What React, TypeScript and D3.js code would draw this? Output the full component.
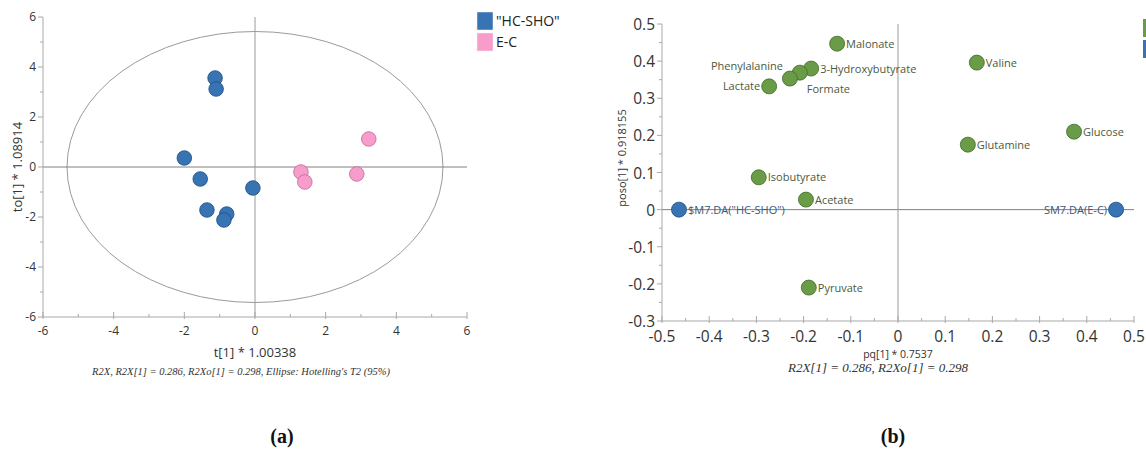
import * as d3 from "d3";

// --- panel (a): score plot ---
const hcX = [-1.13, -1.1, -2.0, -1.55, -0.06, -1.36, -0.8, -0.88];
const hcY = [3.56, 3.12, 0.36, -0.48, -0.84, -1.72, -1.88, -2.12];
const ecX = [1.3, 1.41, 2.88, 3.22];
const ecY = [-0.2, -0.6, -0.28, 1.12];
const ellipseR = [5.32, 5.42];
const ticksA = [-6, -4, -2, 0, 2, 4, 6];
const minorA = [-5, -3, -1, 1, 3, 5];
const legendA = ['"HC-SHO"', "E-C"];

// --- panel (b): loading plot ---
const metNames = [
  "Malonate", "3-Hydroxybutyrate", "Formate", "Phenylalanine", "Lactate",
  "Isobutyrate", "Acetate", "Valine", "Glutamine", "Glucose", "Pyruvate",
];
const metX = [-0.129, -0.184, -0.208, -0.229, -0.273, -0.295, -0.195, 0.167, 0.148, 0.373, -0.189];
const metY = [0.447, 0.38, 0.369, 0.353, 0.332, 0.087, 0.027, 0.396, 0.175, 0.21, -0.21];
const metSide = ["r", "r", "br", "tl", "l", "r", "r", "r", "r", "r", "r"];
const daNames = ['$M7.DA("HC-SHO")', "SM7.DA(E-C)"];
const daX = [-0.464, 0.462];
const daY = [0, 0];
const daSide = ["r", "l"];
const ticksBX = [-0.5, -0.4, -0.3, -0.2, -0.1, 0, 0.1, 0.2, 0.3, 0.4, 0.5];
const ticksBY = [-0.3, -0.2, -0.1, 0, 0.1, 0.2, 0.3, 0.4, 0.5];

const W = 1146;
const H = 450;
const BLUE = "#3874b4";
const BLUE_S = "#1f4c7c";
const PINK = "#f89ccc";
const PINK_S = "#c0689a";
const GREEN = "#6a9c48";
const GREEN_S = "#3f6a28";
const SANS = "'Open Sans', 'Noto Sans', sans-serif";
const SERIF = "'Liberation Serif', 'DejaVu Serif', serif";

// plain hyphen minus, like the original software
const fmtB = (v: number) => (Math.abs(v) < 1e-9 ? "0" : v.toFixed(1));

export default function App() {
  const xA = d3.scaleLinear().domain([-6, 6]).range([43, 467]);
  const yA = d3.scaleLinear().domain([-6, 6]).range([317, 17]);
  const xB = d3.scaleLinear().domain([-0.5, 0.5]).range([662, 1134]);
  const yB = d3.scaleLinear().domain([-0.3, 0.5]).range([321, 24]);

  const minorBX = d3.range(-0.45, 0.5, 0.1);
  const minorBY = d3.range(-0.25, 0.5, 0.1);

  const labelPos = (cx: number, cy: number, side: string) => {
    if (side === "l") return { x: cx - 9, y: cy + 4, anchor: "end" };
    if (side === "tl") return { x: cx - 7, y: cy - 9, anchor: "end" };
    if (side === "br") return { x: cx + 7, y: cy + 20, anchor: "start" };
    return { x: cx + 9, y: cy + 4, anchor: "start" };
  };

  return (
    <svg
      width={W}
      height={H}
      viewBox={`0 0 ${W} ${H}`}
      style={{ position: "absolute", left: 0, top: 0, background: "#fff" }}
    >
      {/* ===== panel (a) ===== */}
      <g>
        <ellipse
          cx={xA(0)}
          cy={yA(0)}
          rx={xA(ellipseR[0]) - xA(0)}
          ry={yA(0) - yA(ellipseR[1])}
          fill="none"
          stroke="#9a9a9a"
          strokeWidth={1}
        />
        {/* zero lines */}
        <line x1={xA(-6)} x2={xA(6)} y1={yA(0)} y2={yA(0)} stroke="#808080" />
        <line x1={xA(0)} x2={xA(0)} y1={yA(6)} y2={yA(-6)} stroke="#9a9a9a" />
        {/* axes */}
        <line x1={xA(-6)} x2={xA(-6)} y1={yA(6)} y2={yA(-6)} stroke="#a8a8a8" />
        <line x1={xA(-6)} x2={xA(6)} y1={yA(-6)} y2={yA(-6)} stroke="#a8a8a8" />
        {ticksA.map((t) => (
          <g key={"ay" + t}>
            <line x1={xA(-6) - 5} x2={xA(-6)} y1={yA(t)} y2={yA(t)} stroke="#a8a8a8" />
            <text x={xA(-6) - 7} y={yA(t) + 4} textAnchor="end" fontSize={12} fontFamily={SANS} fill="#333">
              {t}
            </text>
          </g>
        ))}
        {minorA.map((t) => (
          <line key={"aym" + t} x1={xA(-6) - 3} x2={xA(-6)} y1={yA(t)} y2={yA(t)} stroke="#a8a8a8" />
        ))}
        {ticksA.map((t) => (
          <g key={"ax" + t}>
            <line x1={xA(t)} x2={xA(t)} y1={yA(-6) - 5} y2={yA(-6) + 2} stroke="#a8a8a8" />
            <text x={xA(t)} y={yA(-6) + 18} textAnchor="middle" fontSize={12} fontFamily={SANS} fill="#333">
              {t}
            </text>
          </g>
        ))}
        {minorA.map((t) => (
          <line key={"axm" + t} x1={xA(t)} x2={xA(t)} y1={yA(-6) - 3} y2={yA(-6)} stroke="#a8a8a8" />
        ))}
        {/* points */}
        {hcX.map((x, i) => (
          <circle key={"hc" + i} cx={xA(x)} cy={yA(hcY[i])} r={7.3} fill={BLUE} stroke={BLUE_S} strokeWidth={0.8} />
        ))}
        {ecX.map((x, i) => (
          <circle key={"ec" + i} cx={xA(x)} cy={yA(ecY[i])} r={7.3} fill={PINK} stroke={PINK_S} strokeWidth={0.8} />
        ))}
        {/* legend */}
        {legendA.map((name, i) => (
          <g key={name} transform={`translate(477, ${12 + i * 21})`}>
            <rect width={16} height={18} fill={i === 0 ? BLUE : PINK} stroke="#eee" strokeWidth={0.5} />
            <text x={19} y={14} fontSize={14} fontFamily={SANS} fill="#222">
              {name}
            </text>
          </g>
        ))}
        {/* labels */}
        <text
          transform={`translate(22, ${yA(0)}) rotate(-90)`}
          textAnchor="middle"
          fontSize={13}
          fontFamily={SANS}
          fill="#333"
        >
          to[1] * 1.08914
        </text>
        <text x={xA(0)} y={357} textAnchor="middle" fontSize={13} fontFamily={SANS} fill="#333">
          t[1] * 1.00338
        </text>
        <text x={241} y={375} textAnchor="middle" fontSize={10.5} fontStyle="italic" fontFamily={SERIF} fill="#333">
          R2X, R2X[1] = 0.286, R2Xo[1] = 0.298, Ellipse: Hotelling's T2 (95%)
        </text>
        <text x={282} y={443} textAnchor="middle" fontSize={20} fontWeight="bold" fontFamily={SERIF} fill="#111">
          (a)
        </text>
      </g>

      {/* ===== panel (b) ===== */}
      <g>
        <line x1={xB(-0.5)} x2={xB(0.5)} y1={yB(0)} y2={yB(0)} stroke="#808080" />
        <line x1={xB(0)} x2={xB(0)} y1={yB(0.5)} y2={yB(-0.3)} stroke="#9a9a9a" />
        <line x1={xB(-0.5)} x2={xB(-0.5)} y1={yB(0.5)} y2={yB(-0.3)} stroke="#a8a8a8" />
        <line x1={xB(-0.5)} x2={xB(0.5)} y1={yB(-0.3)} y2={yB(-0.3)} stroke="#a8a8a8" />
        {ticksBY.map((t) => (
          <g key={"by" + t}>
            <line x1={xB(-0.5) - 5} x2={xB(-0.5)} y1={yB(t)} y2={yB(t)} stroke="#a8a8a8" />
            <text x={xB(-0.5) - 7} y={yB(t) + 6} textAnchor="end" fontSize={15.5} fontFamily={SANS} fill="#333">
              {fmtB(t)}
            </text>
          </g>
        ))}
        {minorBY.map((t) => (
          <line key={"bym" + t} x1={xB(-0.5) - 3} x2={xB(-0.5)} y1={yB(t)} y2={yB(t)} stroke="#a8a8a8" />
        ))}
        {ticksBX.map((t) => (
          <g key={"bx" + t}>
            <line x1={xB(t)} x2={xB(t)} y1={yB(-0.3) - 5} y2={yB(-0.3) + 2} stroke="#a8a8a8" />
            <text x={xB(t)} y={yB(-0.3) + 21} textAnchor="middle" fontSize={15.5} fontFamily={SANS} fill="#333">
              {fmtB(t)}
            </text>
          </g>
        ))}
        {minorBX.map((t) => (
          <line key={"bxm" + t} x1={xB(t)} x2={xB(t)} y1={yB(-0.3) - 3} y2={yB(-0.3)} stroke="#a8a8a8" />
        ))}
        {/* metabolite points */}
        {metX.map((x, i) => {
          const cx = xB(x);
          const cy = yB(metY[i]);
          const p = labelPos(cx, cy, metSide[i]);
          return (
            <g key={metNames[i]}>
              <circle cx={cx} cy={cy} r={7.5} fill={GREEN} stroke={GREEN_S} strokeWidth={0.8} />
              <text x={p.x} y={p.y} textAnchor={p.anchor} fontSize={11} fontFamily={SANS} fill="#4b5a40">
                {metNames[i]}
              </text>
            </g>
          );
        })}
        {daX.map((x, i) => {
          const cx = xB(x);
          const cy = yB(daY[i]);
          const p = labelPos(cx, cy, daSide[i]);
          return (
            <g key={daNames[i]}>
              <circle cx={cx} cy={cy} r={7.5} fill={BLUE} stroke={BLUE_S} strokeWidth={0.8} />
              <text x={p.x} y={p.y} textAnchor={p.anchor} fontSize={11} fontFamily={SANS} fill="#3d5878">
                {daNames[i]}
              </text>
            </g>
          );
        })}
        {/* cropped legend at the right edge */}
        <rect x={1143} y={19} width={16} height={18} fill={GREEN} />
        <rect x={1143} y={40} width={16} height={18} fill={BLUE} />
        <text
          transform={`translate(626, 158) rotate(-90)`}
          textAnchor="middle"
          fontSize={11}
          fontFamily={SANS}
          fill="#333"
        >
          poso[1] * 0.918155
        </text>
        <text x={xB(0)} y={358} textAnchor="middle" fontSize={10.5} fontFamily={SANS} fill="#333">
          pq[1] * 0.7537
        </text>
        <text x={878} y={372} textAnchor="middle" fontSize={13} fontStyle="italic" fontFamily={SERIF} fill="#333">
          R2X[1] = 0.286, R2Xo[1] = 0.298
        </text>
        <text x={893} y={443} textAnchor="middle" fontSize={20} fontWeight="bold" fontFamily={SERIF} fill="#111">
          (b)
        </text>
      </g>
    </svg>
  );
}
